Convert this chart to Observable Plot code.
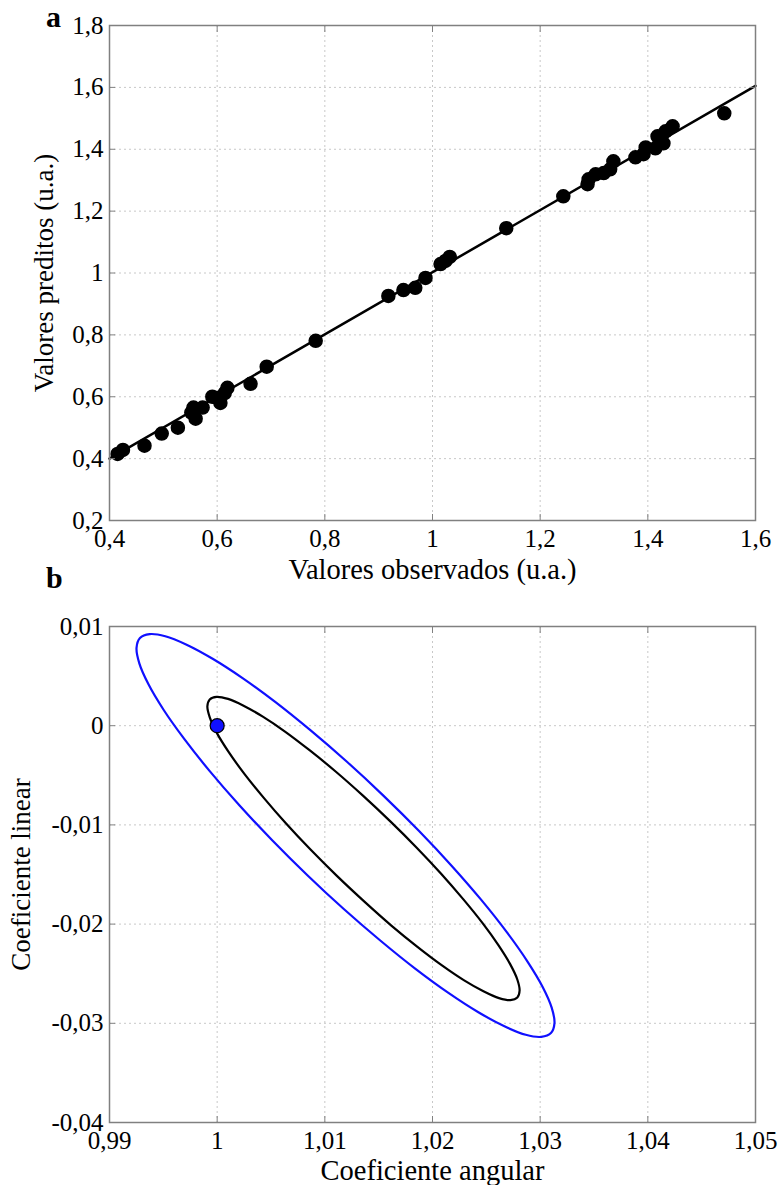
<!DOCTYPE html>
<html>
<head>
<meta charset="utf-8">
<script src="https://cdn.jsdelivr.net/npm/d3@7"></script>
<script src="https://cdn.jsdelivr.net/npm/@observablehq/plot@0.6"></script>
<style>
  html, body { margin: 0; padding: 0; background: white; }
  #wrap { position: relative; width: 782px; height: 1185px; font-family: "Liberation Serif", "Times New Roman", serif; }
  #wrap svg, #wrap svg text { font-family: "Liberation Serif", "Times New Roman", serif !important; }
  .letter { position: absolute; font-weight: bold; font-size: 30px; line-height: 1; color: black; }
  svg { display: block; }
</style>
</head>
<body>
<div id="wrap">
  <div id="chartA"></div>
  <div id="chartB"></div>
  <div class="letter" style="left:46px; top:2px;">a</div>
  <div class="letter" style="left:46px; top:563px;">b</div>
</div>
<script>
// ---------- Panel a data ----------
const xTicksA = [0.4, 0.6, 0.8, 1, 1.2, 1.4, 1.6];
const yTicksA = [0.2, 0.4, 0.6, 0.8, 1, 1.2, 1.4, 1.6, 1.8];
const observed = [0.415, 0.425, 0.465, 0.497, 0.527, 0.552, 0.556, 0.560, 0.573, 0.591, 0.600, 0.606, 0.614, 0.619,
  0.662, 0.692, 0.783, 0.918, 0.946, 0.968, 0.987, 1.015, 1.024, 1.032, 1.137, 1.243, 1.288, 1.290, 1.303, 1.318,
  1.330, 1.336, 1.377, 1.392, 1.396, 1.414, 1.418, 1.429, 1.433, 1.446, 1.542];
const predicted = [0.415, 0.428, 0.442, 0.481, 0.500, 0.549, 0.565, 0.529, 0.565, 0.600, 0.596, 0.580, 0.612, 0.629,
  0.642, 0.697, 0.781, 0.926, 0.945, 0.952, 0.984, 1.029, 1.039, 1.052, 1.145, 1.248, 1.287, 1.303, 1.319, 1.323,
  1.335, 1.361, 1.374, 1.384, 1.406, 1.403, 1.442, 1.419, 1.458, 1.474, 1.516];
const fitX = [0.4, 1.6];
const fitY = [0.4, 1.605];

// ---------- Panel b data (contours) ----------
const xTicksB = [0.99, 1, 1.01, 1.02, 1.03, 1.04, 1.05];
const yTicksB = [0.01, 0, -0.01, -0.02, -0.03, -0.04];
const blueX = [1.03100, 1.03133, 1.03107, 1.03022, 1.02881, 1.02690, 1.02453, 1.02177, 1.01873, 1.01546, 1.01208, 1.00871,
  1.00545, 1.00236, 0.99958, 0.99716, 0.99518, 0.99373, 0.99283, 0.99251, 0.99277, 0.99362, 0.99502, 0.99694,
  0.99931, 1.00206, 1.00511, 1.00838, 1.01176, 1.01512, 1.01839, 1.02148, 1.02426, 1.02668, 1.02866, 1.03010];
const blueY = [-0.03098, -0.02998, -0.02842, -0.02631, -0.02375, -0.02081, -0.01756, -0.01411, -0.01059, -0.00707, -0.00366, -0.00050,
  0.00235, 0.00480, 0.00675, 0.00817, 0.00902, 0.00923, 0.00884, 0.00784, 0.00628, 0.00417, 0.00161, -0.00133,
  -0.00458, -0.00802, -0.01154, -0.01507, -0.01848, -0.02163, -0.02449, -0.02694, -0.02889, -0.03030, -0.03116, -0.03137];
const blackX = [1.02788, 1.02809, 1.02787, 1.02720, 1.02612, 1.02467, 1.02287, 1.02080, 1.01851, 1.01606, 1.01354, 1.01103,
  1.00858, 1.00630, 1.00424, 1.00245, 1.00101, 0.99995, 0.99931, 0.99909, 0.99932, 0.99998, 1.00106, 1.00251,
  1.00431, 1.00638, 1.00867, 1.01112, 1.01365, 1.01615, 1.01860, 1.02088, 1.02294, 1.02473, 1.02618, 1.02723];
const blackY = [-0.02741, -0.02670, -0.02556, -0.02401, -0.02212, -0.01993, -0.01751, -0.01492, -0.01227, -0.00962, -0.00705, -0.00464,
  -0.00247, -0.00059, 0.00091, 0.00202, 0.00270, 0.00291, 0.00265, 0.00195, 0.00081, -0.00075, -0.00264, -0.00483,
  -0.00725, -0.00984, -0.01249, -0.01514, -0.01771, -0.02012, -0.02229, -0.02416, -0.02567, -0.02677, -0.02746, -0.02767];
const estX = [1];
const estY = [0];

// ---------- helpers ----------
const fmt = d => String(+d.toFixed(4)).replace(".", ",");
const frameColor = "#808080";
const gridStyle = {stroke: "#c8c8c8", strokeOpacity: 1, strokeDasharray: "2,3", strokeWidth: 1};
const svgStyle = "font-family: 'Liberation Serif', 'Times New Roman', serif; font-size: 25px; color: black; background: transparent; overflow: visible;";

function axesMarks(xTicks, yTicks, xLabel, yLabel, xLabelDy, yLabelDx) {
  return [
    Plot.frame({stroke: frameColor, strokeWidth: 1.5}),
    Plot.axisX(xTicks, {anchor: "bottom", tickSize: -6, fill: "none", stroke: frameColor, label: null}),
    Plot.axisX(xTicks, {anchor: "top", tickSize: -6, fill: "none", stroke: frameColor, label: null}),
    Plot.axisY(yTicks, {anchor: "left", tickSize: -6, fill: "none", stroke: frameColor, label: null}),
    Plot.axisY(yTicks, {anchor: "right", tickSize: -6, fill: "none", stroke: frameColor, label: null}),
    Plot.axisX(xTicks, {anchor: "bottom", tickSize: 0, tickPadding: 9, tickFormat: fmt, fill: "black", label: null, fontSize: 25}),
    Plot.axisY(yTicks, {anchor: "left", tickSize: 0, tickPadding: 6, tickFormat: fmt, fill: "black", label: null, fontSize: 25}),
    Plot.text([xLabel], {text: d => d, frameAnchor: "bottom", dy: xLabelDy, textAnchor: "middle", lineAnchor: "bottom", fontSize: 28.5, fill: "black"}),
    Plot.text([yLabel], {text: d => d, frameAnchor: "left", dx: yLabelDx, rotate: -90, textAnchor: "middle", lineAnchor: "top", fontSize: 27, fill: "black"})
  ];
}

// ---------- Panel a ----------
const pts = observed.map((x, i) => ({x, y: predicted[i]}));
const fit = fitX.map((x, i) => ({x, y: fitY[i]}));

const chartA = Plot.plot({
  width: 782,
  height: 600,
  marginTop: 25,
  marginBottom: 80,
  marginLeft: 109,
  marginRight: 27,
  style: svgStyle,
  x: {domain: [0.4, 1.6]},
  y: {domain: [0.2, 1.8]},
  marks: [
    Plot.gridX(xTicksA, gridStyle),
    Plot.gridY(yTicksA, gridStyle),
    Plot.line(fit, {x: "x", y: "y", stroke: "black", strokeWidth: 2.5}),
    Plot.dot(pts, {x: "x", y: "y", r: 6.5, fill: "black", stroke: "black"}),
    ...axesMarks(xTicksA, yTicksA, "Valores observados (u.a.)", "Valores preditos (u.a.)", 58, -76)
  ]
});
document.getElementById("chartA").appendChild(chartA);

// ---------- Panel b ----------
const blue = blueX.map((x, i) => ({x, y: blueY[i]}));
const black = blackX.map((x, i) => ({x, y: blackY[i]}));
const est = estX.map((x, i) => ({x, y: estY[i]}));

const chartB = Plot.plot({
  width: 782,
  height: 585,
  marginTop: 26,
  marginBottom: 63,
  marginLeft: 109,
  marginRight: 27,
  style: svgStyle,
  x: {domain: [0.99, 1.05]},
  y: {domain: [-0.04, 0.01]},
  marks: [
    Plot.gridX(xTicksB, gridStyle),
    Plot.gridY(yTicksB, gridStyle),
    Plot.line(blue, {x: "x", y: "y", stroke: "#1010ff", strokeWidth: 2.2, curve: "catmull-rom-closed"}),
    Plot.line(black, {x: "x", y: "y", stroke: "black", strokeWidth: 2.2, curve: "catmull-rom-closed"}),
    Plot.dot(est, {x: "x", y: "y", r: 7, fill: "#1010ff", stroke: "black", strokeWidth: 1.2}),
    ...axesMarks(xTicksB, yTicksB, "Coeficiente angular", "Coeficiente linear", 57, -99)
  ]
});
document.getElementById("chartB").appendChild(chartB);
</script>
</body>
</html>
